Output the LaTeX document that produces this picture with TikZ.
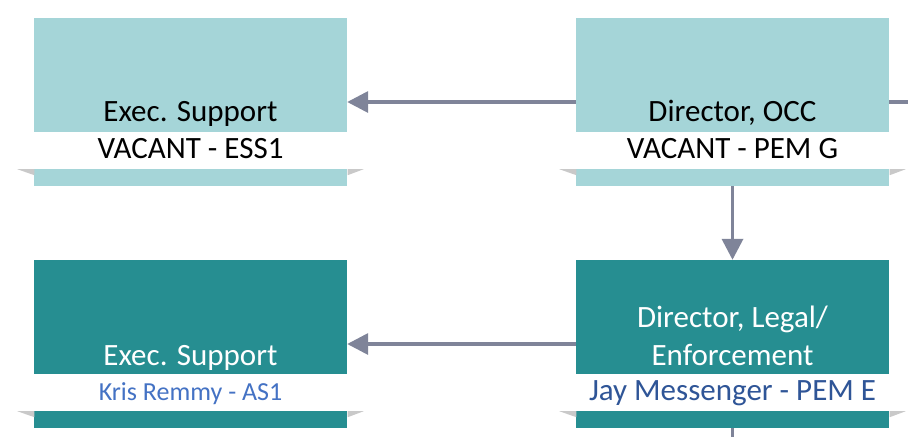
\documentclass[tikz,border=0pt]{standalone}
\usepackage{fontspec}
\setmainfont{Carlito}
\usetikzlibrary{arrows.meta}
\definecolor{lightteal}{HTML}{A5D5D8}
\definecolor{darkteal}{HTML}{268E91}
\definecolor{linkgray}{HTML}{7F8499}
\definecolor{foldgray}{HTML}{C9C9C9}
\definecolor{nameblue}{HTML}{2F5597}
\definecolor{lightblue}{HTML}{4472C4}

\begin{document}
\begin{tikzpicture}[x=1pt,y=-1pt,
  box/.style={minimum width=313pt,minimum height=168pt,inner sep=0pt},
  band/.style={fill=white,minimum width=346pt,minimum height=37pt,inner sep=0pt,anchor=south,yshift=17pt},
  title/.style={font=\fontsize{31}{38}\selectfont,anchor=base,align=center,inner sep=0pt},
  link/.style={draw=linkgray,line width=3.5pt},
  linkarrow/.style={link,-{Triangle[length=21pt,width=21pt]}}]
  \useasboundingbox (0,0) rectangle (908,437);
  \path (190.5,102) node[box,fill=lightteal] (ess) {} (732.5,102) node[box,fill=lightteal] (occ) {}
  (190.5,344) node[box,fill=darkteal] (as) {} (732.5,344) node[box,fill=darkteal] (legal) {};
  % white name bands with folded ends
  \foreach \b in {ess,occ,as,legal} {
    \node[band] (\b band) at (\b.south) {};
    \fill[foldgray] (\b band.south west) -- ++(17,0) -- ++(0,6) -- cycle;
    \fill[foldgray] (\b band.south east) -- ++(-16,0) -- ++(0,6) -- cycle;
  }
  % titles
  \path (190.5,121) node[title] (esstitle) {Exec. Support}
  (732.5,121) node[title] (occtitle) {Director, OCC}
  (190.5,365) node[title,text=white] (astitle) {Exec. Support}
  (732.5,365) node[title,text=white] (legaltitle) {Director, Legal/\\Enforcement};
  % names
  \path (190.5,158) node[title] (essname) {VACANT - ESS1}
  (732.5,158) node[title] (occname) {VACANT - PEM G}
  (190.5,400) node[title,font=\fontsize{26}{30}\selectfont,text=lightblue] (asname) {Kris Remmy - AS1}
  (732.5,400) node[title,text=nameblue] (legalname) {Jay Messenger - PEM E};
  % connectors
  \coordinate (upright) at (908,102);
  \coordinate (downlegal) at (732.5,437);
  \draw[link] (upright) -- (occ);
  \draw[linkarrow] (occ) -- (ess);
  \draw[linkarrow] (occ) -- (legal);
  \draw[linkarrow] (legal) -- (as);
  \draw[link] (legal) -- (downlegal);
\end{tikzpicture}
\end{document}
